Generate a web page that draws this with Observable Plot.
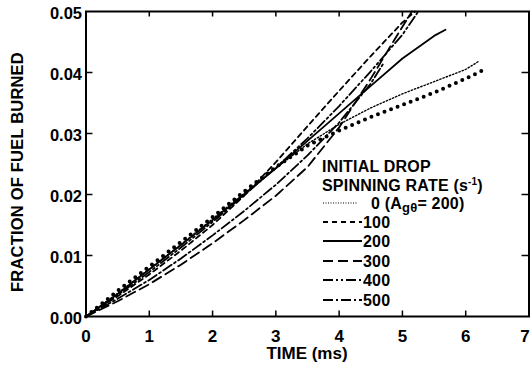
<!DOCTYPE html>
<html>
<head>
<meta charset="utf-8">
<script src="https://cdn.jsdelivr.net/npm/d3@7"></script>
<script src="https://cdn.jsdelivr.net/npm/@observablehq/plot@0.6"></script>
<style>
  html, body { margin: 0; padding: 0; background: #fff; }
  #chart { width: 530px; height: 377px; }
</style>
</head>
<body>
<div id="chart"></div>
<script>
// ---- data ----
const xTicks = [0, 1, 2, 3, 4, 5, 6, 7];
const yTicks = [0, 0.01, 0.02, 0.03, 0.04, 0.05];

// spin rate 0 (fine dotted)
const t0 = [0, 0.5, 1, 1.5, 2, 2.5, 3, 3.5, 4, 4.5, 5, 5.5, 6, 6.2];
const y0 = [0, 0.0038, 0.0078, 0.0118, 0.0160, 0.0202, 0.0243, 0.0283, 0.0315, 0.0342, 0.0365, 0.0385, 0.0405, 0.0418];
// heavy dotted curve (unlabelled)
const tDots = [0, 0.5, 1, 1.5, 2, 2.5, 3, 3.5, 4, 4.5, 5, 5.5, 6, 6.3];
const yDots = [0, 0.0042, 0.0082, 0.0122, 0.0163, 0.0205, 0.0245, 0.0280, 0.0305, 0.0327, 0.0347, 0.0367, 0.0390, 0.0405];
// spin rate 100 (short dash)
const t100 = [0, 0.5, 1, 1.5, 2, 2.5, 3, 3.5, 4, 4.5, 5, 5.2];
const y100 = [0, 0.0033, 0.0069, 0.0108, 0.0150, 0.0198, 0.0253, 0.0312, 0.0370, 0.0427, 0.0482, 0.0500];
// spin rate 200 (solid)
const t200 = [0, 0.5, 1, 1.5, 2, 2.5, 3, 3.5, 4, 4.5, 5, 5.5, 5.68];
const y200 = [0, 0.0037, 0.0077, 0.0117, 0.0158, 0.0200, 0.0243, 0.0288, 0.0333, 0.0378, 0.0423, 0.0460, 0.0470];
// spin rate 300 (long dash)
const t300 = [0, 0.5, 1, 1.5, 2, 2.5, 3, 3.5, 4, 4.5, 5, 5.15];
const y300 = [0, 0.0025, 0.0053, 0.0085, 0.0120, 0.0158, 0.0198, 0.0245, 0.0310, 0.0390, 0.0475, 0.0500];
// spin rate 400 (dash-dot-dot)
const t400 = [0, 0.5, 1, 1.5, 2, 2.5, 3, 3.5, 4, 4.5, 5, 5.25];
const y400 = [0, 0.0035, 0.0073, 0.0113, 0.0155, 0.0199, 0.0244, 0.0292, 0.0345, 0.0402, 0.0462, 0.0500];
// spin rate 500 (dash-dot)
const t500 = [0, 0.5, 1, 1.5, 2, 2.5, 3, 3.5, 4, 4.5, 4.7];
const y500 = [0, 0.0029, 0.0060, 0.0095, 0.0133, 0.0173, 0.0216, 0.0264, 0.0318, 0.0382, 0.0415];

const legendLabels = ["0", "100", "200", "300", "400", "500"];

// ---- styles ----
const FONT = "'Liberation Sans', Arial, Helvetica, sans-serif";
const styles = {
  r0:   {strokeWidth: 1.4, strokeDasharray: "1.4 2"},
  dots: {strokeWidth: 4, strokeDasharray: "0 7", strokeLinecap: "round"},
  r100: {strokeWidth: 1.8, strokeDasharray: "5 4"},
  r200: {strokeWidth: 1.8},
  r300: {strokeWidth: 1.8, strokeDasharray: "10 5"},
  r400: {strokeWidth: 1.8, strokeDasharray: "10 3 2 3 2 3"},
  r500: {strokeWidth: 1.8, strokeDasharray: "10 3 2 3"}
};

const toRows = (t, y) => t.map((d, i) => ({t: d, y: y[i]}));
const series = [
  [toRows(t0, y0), styles.r0],
  [toRows(tDots, yDots), styles.dots],
  [toRows(t100, y100), styles.r100],
  [toRows(t200, y200), styles.r200],
  [toRows(t300, y300), styles.r300],
  [toRows(t400, y400), styles.r400],
  [toRows(t500, y500), styles.r500]
];

const W = 530, H = 377;
const mL = 85.5, mR = 1.5, mT = 11, mB = 61;

const chart = Plot.plot({
  width: W,
  height: H,
  marginLeft: mL,
  marginRight: mR,
  marginTop: mT,
  marginBottom: mB,
  style: {fontFamily: FONT, background: "#fff", color: "#000", overflow: "visible"},
  x: {domain: [0, 7], label: null},
  y: {domain: [0, 0.05], label: null},
  marks: [
    // inward ticks
    Plot.ruleX(xTicks.slice(1, -1), {y1: 0, y2: 0.0009, stroke: "#000", strokeWidth: 1.5}),
    Plot.ruleX(xTicks.slice(1, -1), {y1: 0.05, y2: 0.0491, stroke: "#000", strokeWidth: 1.5}),
    Plot.ruleY(yTicks.slice(1, -1), {x1: 0, x2: 0.11, stroke: "#000", strokeWidth: 1.5}),
    Plot.ruleY(yTicks.slice(1, -1), {x1: 7, x2: 6.89, stroke: "#000", strokeWidth: 1.5}),
    Plot.axisX({ticks: xTicks.slice(0, -1), tickSize: 0, tickPadding: 13, tickFormat: d3.format("d"),
      fontSize: 17, fontWeight: "bold", fontFamily: FONT, label: null}),
    Plot.axisX({ticks: xTicks.slice(-1), tickSize: 0, tickPadding: 13, tickFormat: d3.format("d"),
      fontSize: 17, fontWeight: "bold", fontFamily: FONT, label: null, dx: -4}),
    Plot.axisY({ticks: yTicks, tickSize: 0, tickPadding: 4, tickFormat: d3.format(".2f"),
      fontSize: 16.5, fontWeight: "bold", fontFamily: FONT, label: null, dy: 2}),
    ...series.map(([rows, st]) => Plot.line(rows, {x: "t", y: "y", stroke: "#000", ...st})),
    Plot.frame({stroke: "#000", strokeWidth: 2})
  ]
});

document.getElementById("chart").appendChild(chart);

// ---- axis titles and legend (added into the same SVG) ----
const svg = d3.select(chart);
const txt = (x, y, s, size) => svg.append("text")
  .attr("x", x).attr("y", y)
  .attr("text-anchor", "start")
  .attr("font-family", FONT).attr("font-weight", "bold")
  .attr("font-size", size).attr("fill", "#000").text(s);

svg.append("text")
  .attr("transform", "translate(23,172) rotate(-90)")
  .attr("text-anchor", "middle")
  .attr("font-family", FONT).attr("font-weight", "bold")
  .attr("font-size", 16.5).attr("letter-spacing", "0.2px")
  .attr("fill", "#000").text("FRACTION OF FUEL BURNED");

txt(307, 359, "TIME (ms)", 17).attr("text-anchor", "middle");

// legend
const LF = 16;
txt(322, 172, "INITIAL DROP", LF).attr("letter-spacing", "0.2px");
const sp = txt(322, 191, "SPINNING RATE (s", LF).attr("letter-spacing", "0.2px");
sp.append("tspan").attr("dy", -6).attr("font-size", 10).text("-1");
sp.append("tspan").attr("dy", 6).text(")");

const legendStyles = [styles.r0, styles.r100, styles.r200, styles.r300, styles.r400, styles.r500];
const rowY = [203, 222, 241, 261, 280, 300];
legendLabels.forEach((lab, i) => {
  const st = legendStyles[i];
  svg.append("line")
    .attr("x1", 323).attr("x2", i === 0 ? 357 : 362)
    .attr("y1", rowY[i]).attr("y2", rowY[i])
    .attr("stroke", "#000")
    .attr("stroke-width", i === 0 ? 1.2 : st.strokeWidth)
    .attr("stroke-dasharray", i === 0 ? "1 1.5" : (st.strokeDasharray || null));
  if (i === 0) {
    const t = txt(371, rowY[i] + 6, "0 (A", LF).attr("letter-spacing", "0.2px");
    t.append("tspan").attr("dy", 3).attr("font-size", 13).text("gθ");
    t.append("tspan").attr("dy", -3).text("= 200)");
  } else {
    txt(363, rowY[i] + 6, lab, LF).attr("letter-spacing", "0.2px");
  }
});
</script>
</body>
</html>
